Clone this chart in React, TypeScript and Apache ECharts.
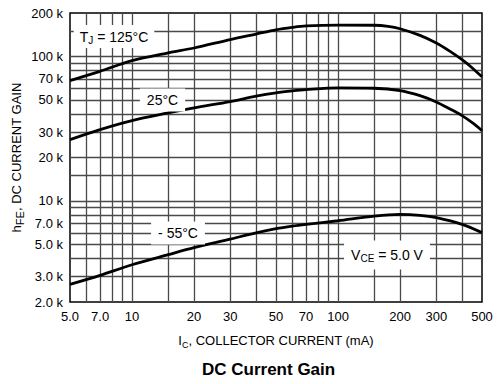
import React, { useEffect, useRef } from 'react';
import * as echarts from 'echarts';

// Collector current (mA) and DC current gain readings for each junction temperature
const ic125 = [5, 7, 10, 15, 20, 30, 40, 50, 60, 70, 100, 150, 175, 200, 250, 300, 350, 400, 450, 500];
const hfe125 = [68000, 79000, 93600, 106000, 114500, 131000, 143000, 153000, 159000, 162800, 165000, 164500, 161600, 155600, 140000, 124000, 108500, 95000, 83000, 72300];

const ic25 = [5, 7, 10, 15, 20, 30, 40, 50, 60, 70, 100, 150, 200, 250, 300, 350, 400, 450, 500];
const hfe25 = [26600, 31200, 36000, 40700, 44100, 48800, 53100, 56000, 57800, 59000, 60600, 60300, 58100, 53600, 48500, 43300, 39000, 34700, 30700];

const icM55 = [5, 7, 10, 15, 20, 30, 40, 50, 60, 70, 100, 150, 200, 250, 300, 400, 500];
const hfeM55 = [2650, 3060, 3620, 4250, 4750, 5450, 6020, 6430, 6700, 6890, 7300, 7860, 8070, 7950, 7660, 6890, 6040];

// Axis ranges, grid lines and tick labels
const xMin = 5;
const xMax = 500;
const yMin = 2000;
const yMax = 200000;
const xGridValues = [6, 7, 8, 9, 10, 15, 20, 30, 40, 50, 60, 70, 80, 90, 100, 150, 200, 300, 400];
const yGridValues = [3000, 4000, 5000, 6000, 7000, 8000, 9000, 10000, 15000, 20000, 30000, 40000, 50000, 60000, 70000, 80000, 90000, 100000, 150000];
const xTickValues = [5, 7, 10, 20, 30, 50, 70, 100, 200, 300, 500];
const xTickLabels = ['5.0', '7.0', '10', '20', '30', '50', '70', '100', '200', '300', '500'];
const yTickValues = [2000, 3000, 5000, 7000, 10000, 20000, 30000, 50000, 70000, 100000, 200000];
const yTickLabels = ['2.0 k', '3.0 k', '5.0 k', '7.0 k', '10 k', '20 k', '30 k', '50 k', '70 k', '100 k', '200 k'];

const FONT = '"Liberation Sans", Arial, Helvetica, sans-serif';

const zip = (xs: number[], ys: number[]) => xs.map((x, i) => [x, ys[i]]);

const rich = (size: number, sub = 0.72) => ({
  m: { fontFamily: FONT, fontSize: size, color: '#000', lineHeight: 17 },
  s: { fontFamily: FONT, fontSize: Math.round(size * sub), color: '#000', lineHeight: 9, verticalAlign: 'bottom' as const },
});

export default function App() {
  const ref = useRef<HTMLDivElement>(null);

  useEffect(() => {
    if (!ref.current) return;
    const chart = echarts.init(ref.current, undefined, { renderer: 'svg' });

    const curve = (name: string, data: number[][]) => ({
      name,
      type: 'line',
      data,
      showSymbol: false,
      symbol: 'none',
      smooth: 0.3,
      z: 5,
      lineStyle: { color: '#000', width: 2.8 },
      silent: true,
    });

    const option: any = {
      animation: false,
      backgroundColor: '#fff',
      title: {
        text: 'DC Current Gain',
        left: 197,
        top: 356,
        textStyle: { fontFamily: FONT, fontSize: 17, fontWeight: 'bold', color: '#000' },
      },
      grid: {
        left: 70,
        right: 18,
        top: 13,
        bottom: 82,
        show: true,
        borderColor: '#000',
        borderWidth: 1.5,
        backgroundColor: 'transparent',
      },
      xAxis: {
        type: 'log',
        logBase: 10,
        min: xMin,
        max: xMax,
        axisLine: { show: false },
        axisTick: { show: false },
        axisLabel: { show: false },
        splitLine: { show: false },
        minorSplitLine: { show: false },
        name: '{m|I}{s|C}{m|, COLLECTOR CURRENT (mA)}',
        nameLocation: 'middle',
        nameGap: 30,
        nameTextStyle: { rich: rich(13) },
      },
      yAxis: {
        type: 'log',
        logBase: 10,
        min: yMin,
        max: yMax,
        axisLine: { show: false },
        axisTick: { show: false },
        axisLabel: { show: false },
        splitLine: { show: false },
        minorSplitLine: { show: false },
        name: '{m|h}{s|FE}{m|, DC CURRENT GAIN}',
        nameLocation: 'middle',
        nameGap: 45,
        nameRotate: 90,
        nameTextStyle: { rich: rich(13, 0.85) },
      },
      series: [
        {
          name: 'grid',
          type: 'line',
          data: [],
          z: 1,
          silent: true,
          markLine: {
            silent: true,
            symbol: ['none', 'none'],
            animation: false,
            label: { show: false },
            lineStyle: { color: '#4a4a4a', width: 1.3, type: 'solid' },
            data: [
              ...xGridValues.map((v) => ({ xAxis: v })),
              ...yGridValues.map((v) => ({ yAxis: v })),
            ],
          },
        },
        {
          name: 'ticks',
          type: 'line',
          data: [],
          z: 1,
          silent: true,
          markLine: {
            silent: true,
            symbol: ['none', 'none'],
            animation: false,
            lineStyle: { color: 'rgba(0,0,0,0)', width: 1, type: 'solid' },
            label: {
              show: true,
              position: 'start',
              fontFamily: FONT,
              fontSize: 13,
              color: '#000',
            },
            data: [
              ...xTickValues.map((v, i) => ({ xAxis: v, label: { show: true, formatter: xTickLabels[i], distance: 8 } })),
              ...yTickValues.map((v, i) => ({ yAxis: v, label: { show: true, formatter: yTickLabels[i], distance: 7 } })),
            ],
          },
        },
        curve('125', zip(ic125, hfe125)),
        curve('25', zip(ic25, hfe25)),
        curve('-55', zip(icM55, hfeM55)),
      ],
      graphic: [
        {
          type: 'text',
          x: 114,
          y: 36.5,
          z: 50,
          style: {
            text: '{m|T}{s|J}{m| = 125°C}',
            rich: rich(14),
            align: 'center',
            verticalAlign: 'middle',
            backgroundColor: '#fff',
            padding: [3, 6, 3, 6],
          },
        },
        {
          type: 'text',
          x: 162.5,
          y: 100,
          z: 50,
          style: {
            text: '{m|25°C}',
            rich: rich(14),
            align: 'center',
            verticalAlign: 'middle',
            backgroundColor: '#fff',
            padding: [3, 7, 3, 7],
          },
        },
        {
          type: 'text',
          x: 178,
          y: 233,
          z: 50,
          style: {
            text: '{m|- 55°C}',
            rich: rich(14),
            align: 'center',
            verticalAlign: 'middle',
            backgroundColor: '#fff',
            padding: [3, 7, 3, 7],
          },
        },
        {
          type: 'text',
          x: 387,
          y: 255,
          z: 50,
          style: {
            text: '{m|V}{s|CE}{m| = 5.0 V}',
            rich: rich(14),
            align: 'center',
            verticalAlign: 'middle',
            backgroundColor: '#fff',
            padding: [6, 7, 6, 7],
          },
        },
      ],
    };

    chart.setOption(option);
    return () => chart.dispose();
  }, []);

  return <div ref={ref} style={{ width: 500, height: 384, position: 'absolute', left: 0, top: 0 }} />;
}
